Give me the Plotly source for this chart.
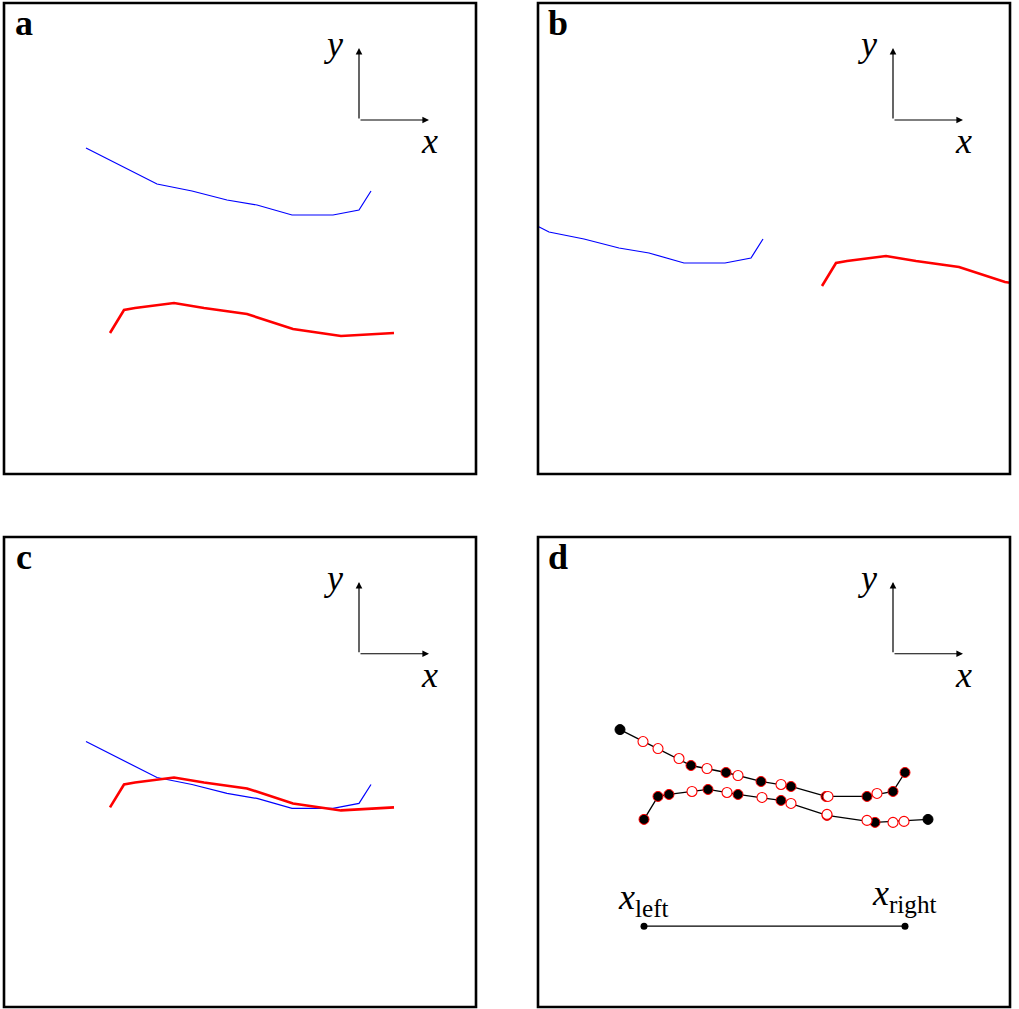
import plotly.graph_objects as go
import numpy as np

W, H = 1019, 1009

# ---- data (in panel pixel units) ----
blue_x = [86, 157, 192, 227, 257, 292, 333, 359, 371]
blue_y = [148, 184, 191, 200, 205, 215, 215, 210, 191]
red_x = [110, 124, 135, 174, 204, 247, 293, 341, 394]
red_y = [333, 310, 308, 303, 308, 314, 329, 336, 333]

panel_labels = ["a", "b", "c", "d"]
blue_dx = [0, -142, 0, 0]
blue_dy = [0, 48, 60, 48]
red_dx = [0, 178, 0, 0]
red_dy = [0, -47, -59, -47]

# panel d: open circles on the upper (blue-derived) curve and lower (red-derived) curve
open_up_x = [109, 124, 145, 173, 204, 247, 294, 343]
open_up_y = [160, 167, 177, 187, 194, 203, 215, 212]
open_lo_x = [158, 193, 228, 257, 293, 333, 359, 370]
open_lo_y = [305, 306, 311, 317, 328, 334, 336, 335]

seg_labels = ["<i>x</i><sub>left</sub>", "<i>x</i><sub>right</sub>"]

# ---- layout of panels (pixel boxes) ----
boxes = [(4, 476, 3, 474), (538, 1010, 3, 474), (4, 476, 537, 1007), (538, 1010, 537, 1007)]
XR = [4, 476]
YR = [474, 3]

fig = go.Figure()
layout = dict(width=W, height=H, margin=dict(l=0, r=0, t=0, b=0),
              paper_bgcolor="white", plot_bgcolor="white", showlegend=False,
              shapes=[], annotations=[])

for i, (x0, x1, y0, y1) in enumerate(boxes):
    n = "" if i == 0 else str(i + 1)
    xa, ya = "xaxis" + n, "yaxis" + n
    xr, yr = "x" + n, "y" + n
    layout[xa] = dict(domain=[x0 / W, x1 / W], range=XR, visible=False, anchor=yr,
                      showgrid=False, zeroline=False)
    layout[ya] = dict(domain=[1 - y1 / H, 1 - y0 / H], range=YR, visible=False, anchor=xr,
                      showgrid=False, zeroline=False)
    # border
    layout["shapes"].append(dict(type="rect", xref=xr + " domain", yref=yr + " domain",
                                 x0=0, x1=1, y0=0, y1=1, line=dict(color="black", width=2.6)))
    # panel letter (paper coordinates, so it may sit close to the top edge)
    layout["annotations"].append(dict(xref="paper", yref="paper", x=(x0 + 20) / W,
                                      y=1 - max(y0 - 2, 0) / H, xanchor="center", yanchor="top",
                                      text="<b>%s</b>" % panel_labels[i], showarrow=False,
                                      font=dict(family="Liberation Serif", size=36, color="black")))
    # coordinate arrows
    layout["annotations"].append(dict(xref=xr, yref=yr, axref=xr, ayref=yr, x=359, y=48, ax=359, ay=120,
                                      text="", showarrow=True, arrowhead=2, arrowsize=1.1,
                                      arrowwidth=1.2, arrowcolor="black", standoff=0, startstandoff=0))
    layout["annotations"].append(dict(xref=xr, yref=yr, axref=xr, ayref=yr, x=429, y=120, ax=359, ay=120,
                                      text="", showarrow=True, arrowhead=2, arrowsize=1.1,
                                      arrowwidth=1.2, arrowcolor="black", standoff=0, startstandoff=0))
    layout["annotations"].append(dict(xref=xr, yref=yr, x=333, y=44, text="<i>y</i>", showarrow=False,
                                      xanchor="center", yanchor="middle",
                                      font=dict(family="Liberation Serif", size=36, color="black")))
    layout["annotations"].append(dict(xref=xr, yref=yr, x=429, y=141, text="<i>x</i>", showarrow=False,
                                      xanchor="center", yanchor="middle",
                                      font=dict(family="Liberation Serif", size=36, color="black")))

    bx = np.array(blue_x) + blue_dx[i]
    by = np.array(blue_y) + blue_dy[i]
    rx = np.array(red_x) + red_dx[i]
    ry = np.array(red_y) + red_dy[i]

    if i < 3:
        fig.add_trace(go.Scatter(x=bx, y=by, mode="lines", line=dict(color="#0000ff", width=1.2),
                                 xaxis=xr, yaxis=yr, hoverinfo="skip"))
        fig.add_trace(go.Scatter(x=rx, y=ry, mode="lines", line=dict(color="#ff0000", width=2.6),
                                 xaxis=xr, yaxis=yr, hoverinfo="skip"))
    else:
        lo, hi = min(red_x), max(blue_x)
        for cx, cy in ((bx, by), (rx, ry)):
            edge = ["red" if lo <= v <= hi else "black" for v in cx]
            fig.add_trace(go.Scatter(x=cx, y=cy, mode="lines+markers",
                                     line=dict(color="black", width=1.3),
                                     marker=dict(size=10, color="black", line=dict(color=edge, width=1)),
                                     xaxis=xr, yaxis=yr, hoverinfo="skip"))
        fig.add_trace(go.Scatter(x=open_up_x, y=np.array(open_up_y) + blue_dy[i], mode="markers",
                                 marker=dict(size=10, color="white", line=dict(color="red", width=1.1)),
                                 xaxis=xr, yaxis=yr, hoverinfo="skip"))
        fig.add_trace(go.Scatter(x=open_lo_x, y=np.array(open_lo_y) + red_dy[i], mode="markers",
                                 marker=dict(size=10, color="white", line=dict(color="red", width=1.1)),
                                 xaxis=xr, yaxis=yr, hoverinfo="skip"))
        seg_x = [min(red_x), max(blue_x)]
        fig.add_trace(go.Scatter(x=seg_x, y=[393, 393], mode="lines+markers",
                                 line=dict(color="black", width=1.3),
                                 marker=dict(size=7, color="black"),
                                 xaxis=xr, yaxis=yr, hoverinfo="skip"))
        layout["annotations"].append(dict(xref=xr, yref=yr, x=109, y=366, text=seg_labels[0],
                                          showarrow=False, xanchor="center", yanchor="middle",
                                          font=dict(family="Liberation Serif", size=36, color="black")))
        layout["annotations"].append(dict(xref=xr, yref=yr, x=370, y=362, text=seg_labels[1],
                                          showarrow=False, xanchor="center", yanchor="middle",
                                          font=dict(family="Liberation Serif", size=36, color="black")))

fig.update_layout(**layout)
fig.write_html("out.html", config={"displayModeBar": False},
               post_script="document.body.style.margin='0';")
